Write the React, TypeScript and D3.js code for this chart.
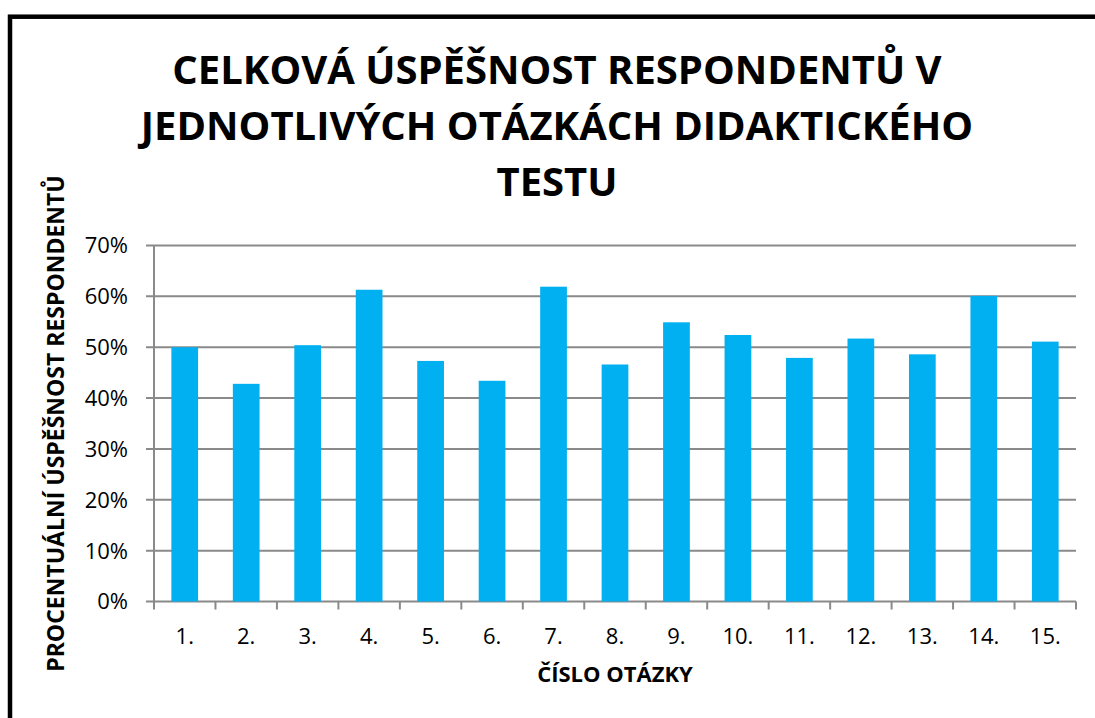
import React from "react";
import * as d3 from "d3";

const categories = ["1.", "2.", "3.", "4.", "5.", "6.", "7.", "8.", "9.", "10.", "11.", "12.", "13.", "14.", "15."];
const values = [0.5, 0.428, 0.504, 0.613, 0.473, 0.434, 0.619, 0.466, 0.549, 0.524, 0.479, 0.517, 0.486, 0.601, 0.511];
const yTicks = [0, 0.1, 0.2, 0.3, 0.4, 0.5, 0.6, 0.7];
const titleLines = ["CELKOVÁ ÚSPĚŠNOST RESPONDENTŮ V", "JEDNOTLIVÝCH OTÁZKÁCH DIDAKTICKÉHO", "TESTU"];
const xTitle = "ČÍSLO OTÁZKY";
const yTitle = "PROCENTUÁLNÍ ÚSPĚŠNOST RESPONDENTŮ";

const W = 1095;
const H = 718;
const plot = { left: 154, right: 1076, top: 245.5, bottom: 601.5 };
const FONT = "'Open Sans', 'DejaVu Sans', sans-serif";
const GRID = "#8a8a8a";

export default function App() {
  const x = d3
    .scaleBand<string>()
    .domain(categories)
    .range([plot.left, plot.right])
    .paddingInner(1.3 / 2.3)
    .paddingOuter(1.3 / 2.3 / 2);
  const y = d3.scaleLinear().domain([0, 0.7]).range([plot.bottom, plot.top]);
  const step = (plot.right - plot.left) / categories.length;
  const fmt = d3.format(".0%");

  return (
    <svg
      width={W}
      height={H}
      style={{ position: "absolute", left: 0, top: 0, display: "block", background: "#fff" }}
    >
      <rect x={10} y={16.7} width={1200} height={800} fill="#fff" stroke="#000" strokeWidth={4.5} />
      {titleLines.map((t, i) => (
        <text
          key={i}
          x={557}
          y={84 + i * 56}
          textAnchor="middle"
          fontFamily={FONT}
          fontWeight={700}
          fontSize={40}
          fill="#000"
        >
          {t}
        </text>
      ))}
      {yTicks.map((t) => (
        <line key={"g" + t} x1={plot.left - 8} x2={plot.right} y1={y(t)} y2={y(t)} stroke={GRID} strokeWidth={2} />
      ))}
      <line x1={plot.left} x2={plot.left} y1={plot.top} y2={plot.bottom} stroke={GRID} strokeWidth={2} />
      {d3.range(categories.length + 1).map((i) => (
        <line
          key={"xt" + i}
          x1={plot.left + i * step}
          x2={plot.left + i * step}
          y1={plot.bottom}
          y2={plot.bottom + 8}
          stroke={GRID}
          strokeWidth={2}
        />
      ))}
      {categories.map((c, i) => (
        <rect
          key={"b" + c}
          x={x(c)}
          y={y(values[i])}
          width={x.bandwidth()}
          height={plot.bottom - y(values[i])}
          fill="#00B0F0"
        />
      ))}
      {yTicks.map((t) => (
        <text
          key={"yl" + t}
          x={128}
          y={y(t)}
          dy="0.36em"
          textAnchor="end"
          fontFamily={FONT}
          fontSize={22}
          fill="#000"
        >
          {fmt(t)}
        </text>
      ))}
      {categories.map((c) => (
        <text
          key={"xl" + c}
          x={(x(c) as number) + x.bandwidth() / 2}
          y={644}
          textAnchor="middle"
          fontFamily={FONT}
          fontSize={22}
          fill="#000"
        >
          {c}
        </text>
      ))}
      <text
        x={(plot.left + plot.right) / 2}
        y={682}
        textAnchor="middle"
        fontFamily={FONT}
        fontWeight={700}
        fontSize={22}
        fill="#000"
      >
        {xTitle}
      </text>
      <text
        transform={`translate(64, ${(plot.top + plot.bottom) / 2}) rotate(-90)`}
        textAnchor="middle"
        fontFamily={FONT}
        fontWeight={700}
        fontSize={23}
        fill="#000"
      >
        {yTitle}
      </text>
    </svg>
  );
}
